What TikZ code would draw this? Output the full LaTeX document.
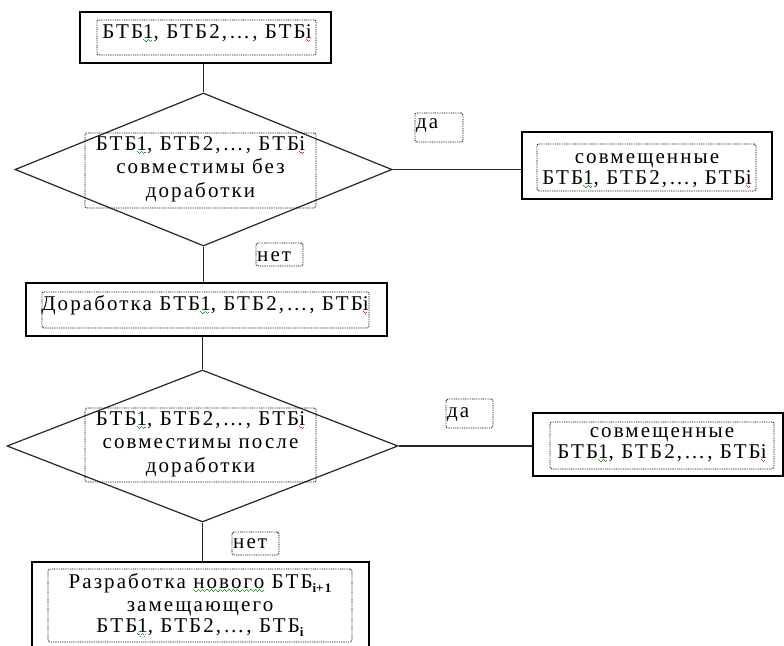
\documentclass[tikz,border=0pt]{standalone}
\usepackage{fontspec}
\setmainfont{Liberation Serif}[LetterSpace=10]
\usetikzlibrary{shapes.geometric}
% wavy spell-check marks under single words, built from small rules
\newcommand\wavestep[1]{\lower#1\hbox{\vrule width 1.1pt height 1pt depth 0pt}}
\newcommand\wavebit{\hbox{\wavestep{0pt}\wavestep{1.1pt}\wavestep{2.2pt}\wavestep{1.1pt}}}
\newcommand\spellmark[2]{\leavevmode\setbox0\hbox{#2}%
  \rlap{\lower2.2pt\hbox to\wd0{\color{#1}\leaders\wavebit\hfill}}\box0\relax}
\definecolor{gramgreen}{RGB}{40,160,40}
\definecolor{spellred}{RGB}{230,40,40}
\newcommand\gw[1]{\spellmark{gramgreen}{#1}}
\newcommand\rw[1]{\spellmark{spellred}{#1}}
\newcommand\txtlines[1]{\begin{tabular}[t]{@{}c@{}}#1\end{tabular}}
\newcommand\btbs{БТБ\gw{1}, БТБ2,…, БТБ\rw{i}}
\newcommand\sub[1]{\raisebox{-4pt}{\fontsize{13}{13}\selectfont\bfseries #1}}
\begin{document}
\begin{tikzpicture}[x=1pt,y=-1pt,
  outerbox/.style={draw=black, line width=1.4pt, rectangle, inner sep=0pt},
  dotbox/.style={draw=black, line width=0.8pt, dash pattern=on 0.9pt off 0.9pt,
    rounded corners=2pt, rectangle, inner sep=0pt},
  decision/.style={draw=black!85, line width=1.2pt, diamond, inner sep=0pt},
  link/.style={draw=black!85, line width=1.2pt},
  txt/.style={inner sep=0pt, anchor=base, font=\fontsize{21}{23.5}\selectfont},
  tag/.style={inner sep=0pt, anchor=base west, font=\fontsize{21}{23.5}\selectfont}]
\useasboundingbox (0,0) rectangle (784,645);
\clip (0,0) rectangle (784,645);

% start block
\node[outerbox, minimum width=251pt, minimum height=51pt] (b1) at (205.5,37.5) {};
\node[dotbox, minimum width=219pt, minimum height=35pt] (b1d) at (206.5,37.5) {};
\node[txt] (b1t) at (207,38) {\btbs};

% first decision
\node[decision, minimum width=377pt, minimum height=153pt] (d1) at (203.5,169.5) {};
\node[dotbox, minimum width=231pt, minimum height=75pt] (d1d) at (200.5,170.5) {};
\node[txt] (d1t) at (200.5,150) {\txtlines{\btbs\\совместимы без\\доработки}};

% first "yes" result
\node[outerbox, minimum width=250pt, minimum height=67pt] (r1) at (647,165.5) {};
\node[dotbox, minimum width=219pt, minimum height=47pt] (r1d) at (646.5,167.5) {};
\node[txt, font=\fontsize{21}{21}\selectfont] (r1t) at (647,163) {\txtlines{совмещенные\\\btbs}};

\node[dotbox, minimum width=48pt, minimum height=29pt] (y1d) at (439,127.5) {};
\node[tag] (y1) at (416,128) {да};
\node[dotbox, minimum width=47pt, minimum height=23pt] (n1d) at (279.5,254.5) {};
\node[tag] (n1) at (257,261) {нет};

% rework block
\node[outerbox, minimum width=361pt, minimum height=53pt] (b2) at (206.5,309.5) {};
\node[dotbox, minimum width=327pt, minimum height=36pt] (b2d) at (205.5,310) {};
\node[txt] (b2t) at (205,310) {Доработка \btbs};

% second decision
\node[decision, minimum width=391pt, minimum height=152pt] (d2) at (202.5,446) {};
\node[dotbox, minimum width=231pt, minimum height=74pt] (d2d) at (200.5,445) {};
\node[txt] (d2t) at (200.5,425) {\txtlines{\btbs\\совместимы после\\доработки}};

% second "yes" result
\node[outerbox, minimum width=250pt, minimum height=63pt] (r2) at (658,444.5) {};
\node[dotbox, minimum width=224pt, minimum height=47pt] (r2d) at (662,445.5) {};
\node[txt, font=\fontsize{21}{21}\selectfont] (r2t) at (662,437) {\txtlines{совмещенные\\\btbs}};

\node[dotbox, minimum width=47pt, minimum height=29pt] (y2d) at (469.5,413.5) {};
\node[tag] (y2) at (447,417) {да};
\node[dotbox, minimum width=47pt, minimum height=23pt] (n2d) at (255.5,543.5) {};
\node[tag] (n2) at (233,548) {нет};

% new block
\node[outerbox, minimum width=337pt, minimum height=96pt] (b3) at (200.5,610) {};
\node[dotbox, minimum width=304pt, minimum height=73pt] (b3d) at (200,605.5) {};
\node[txt, font=\fontsize{21}{21}\selectfont] (b3t) at (200,588)
  {\txtlines{Разработка \gw{нового} БТБ\sub{\rw{i}+1}\\
   замещающего\\
   БТБ\gw{1}, БТБ2,…, БТБ\sub{\rw{i}}}};

% connectors
\draw[link] (d1.north |- b1.south) -- (d1.north);
\draw[link] (d1.east) -- (r1.west |- d1.east);
\draw[link] (d1.south) -- (d1.south |- b2.north);
\draw[link] (d2.north |- b2.south) -- (d2.north);
\draw[link] (d2.east) -- (r2.west |- d2.east);
\draw[link] (d2.south) -- (d2.south |- b3.north);
\end{tikzpicture}
\end{document}
